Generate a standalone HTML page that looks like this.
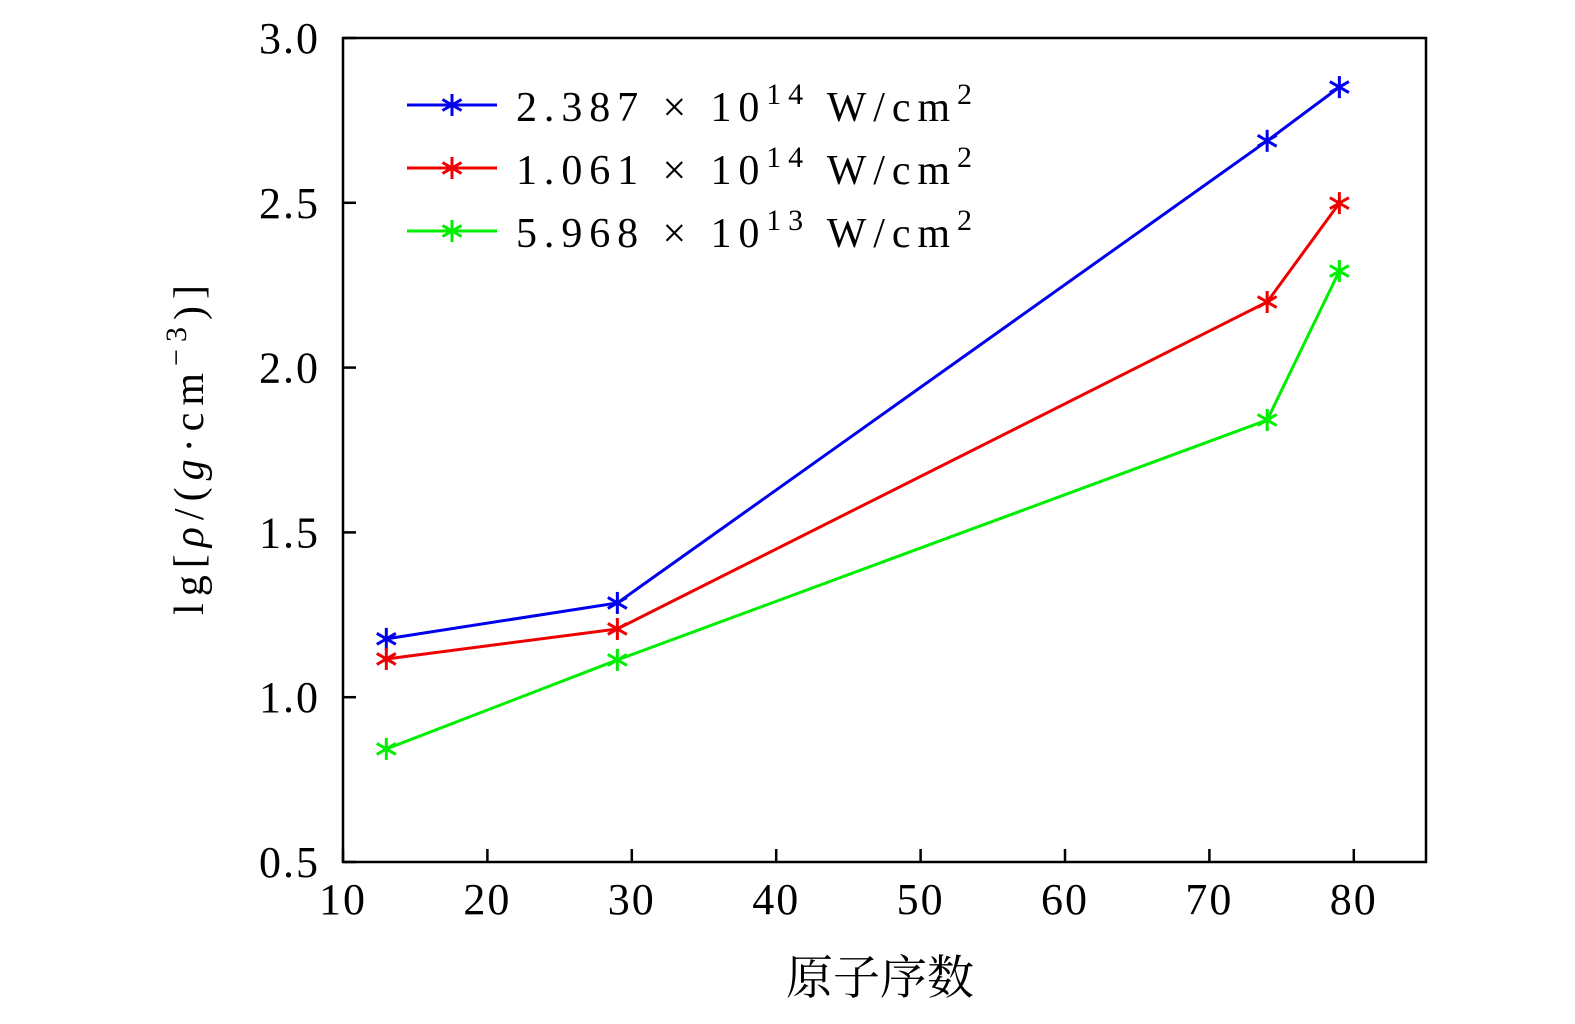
<!DOCTYPE html>
<html><head><meta charset="utf-8"><style>
html,body{margin:0;padding:0;background:#fff;overflow:hidden;width:1575px;height:1024px}
svg{display:block}
text{font-family:"Liberation Serif","Noto Serif CJK SC",serif;fill:#000}
</style></head><body>
<svg id="chart" width="1575" height="1024" viewBox="0 0 1575 1024" xmlns="http://www.w3.org/2000/svg"></svg>
<script>
const categories=[13,29,74,79];
const seriesBlue=[1.177,1.286,2.688,2.851];
const seriesRed=[1.116,1.207,2.199,2.499];
const seriesGreen=[0.843,1.113,1.841,2.293];
const seriesNames=["2.387 × 10^14 W/cm^2","1.061 × 10^14 W/cm^2","5.968 × 10^13 W/cm^2"];
const xTicks=[10,20,30,40,50,60,70,80];
const yTicks=[0.5,1.0,1.5,2.0,2.5,3.0];
const yTickLabels=["0.5","1.0","1.5","2.0","2.5","3.0"];

const svg=document.getElementById('chart');
const NS='http://www.w3.org/2000/svg';
const X0=343,X1=1426,Y0=862,Y1=38;
const xs=v=>X0+(v-10)/(85-10)*(X1-X0);
const ys=v=>Y0-(v-0.5)/(3.0-0.5)*(Y0-Y1);
function mk(tag,attrs,parent){const e=document.createElementNS(NS,tag);for(const k in attrs)e.setAttribute(k,attrs[k]);(parent||svg).appendChild(e);return e;}

const frame=mk('rect',{x:X0,y:Y1,width:X1-X0,height:Y0-Y1,fill:'none',stroke:'#000','stroke-width':2.5});



xTicks.forEach(t=>{
  const l=mk('line',{x1:xs(t),x2:xs(t),y1:Y0,y2:Y0-13,stroke:'#000','stroke-width':2.5});
  
  
  const tx=mk('text',{x:xs(t),y:914,'text-anchor':'middle','font-size':44,'letter-spacing':2});
  tx.textContent=t;
  
  
});
yTicks.forEach((t,i)=>{
  const l=mk('line',{x1:X0,x2:X0+13,y1:ys(t),y2:ys(t),stroke:'#000','stroke-width':2.5});
  
  
  const tx=mk('text',{x:320,y:ys(t)+15,'text-anchor':'end','font-size':44,'letter-spacing':2});
  tx.textContent=yTickLabels[i];
  
  
});

const xt=mk('text',{x:880,y:994,'text-anchor':'middle','font-size':47});
xt.textContent='原子序数';



const yt=mk('text',{x:-165,y:0,'font-size':42,textLength:330,lengthAdjust:'spacing',transform:'translate(203,450) rotate(-90)'});
yt.innerHTML='lg[<tspan font-style="italic">ρ</tspan>/(<tspan font-style="italic">g</tspan>·cm<tspan dy="-17" font-size="30">−3</tspan><tspan dy="17">)]</tspan>';



function star(cx,cy,color,parent){
  const g=mk('g',{stroke:color,'stroke-width':3},parent);
  const r=11;
  [90,30,-30].forEach(a=>{const rad=a*Math.PI/180;const dx=r*Math.cos(rad),dy=r*Math.sin(rad);
    mk('line',{x1:cx-dx,y1:cy-dy,x2:cx+dx,y2:cy+dy},g);});
  return g;
}
const allSeries=[[seriesBlue,'#0000ee','series-blue'],[seriesRed,'#ee0000','series-red'],[seriesGreen,'#00ee00','series-green']];
allSeries.forEach(([vals,color,name])=>{
  const g=mk('g',{});
  
  
  const pts=vals.map((v,i)=>xs(categories[i])+','+ys(v)).join(' ');
  const pl=mk('polyline',{points:pts,fill:'none',stroke:color,'stroke-width':3},g);
  
  
  vals.forEach((v,i)=>{
    const s=star(xs(categories[i]),ys(v),color,g);
    
    
  });
});

const legend=mk('g',{});


allSeries.forEach(([vals,color,name],i)=>{
  const y=105+i*63;
  const e=mk('g',{},legend);
  
  
  mk('line',{x1:407,x2:497,y1:y,y2:y,stroke:color,'stroke-width':3},e);
  star(452,y,color,e);
  const parts=seriesNames[i].split('^');
  const t=mk('text',{x:516,y:y+16,'font-size':42,textLength:456,lengthAdjust:'spacing'},e);
  const mant=parts[1].split(' ')[0];
  t.innerHTML=parts[0]+'<tspan dy="-17" font-size="30">'+mant+'</tspan><tspan dy="17"> '+parts[1].slice(mant.length+1)+'</tspan><tspan dy="-17" font-size="30">'+parts[2]+'</tspan>';
});
</script>
</body></html>
